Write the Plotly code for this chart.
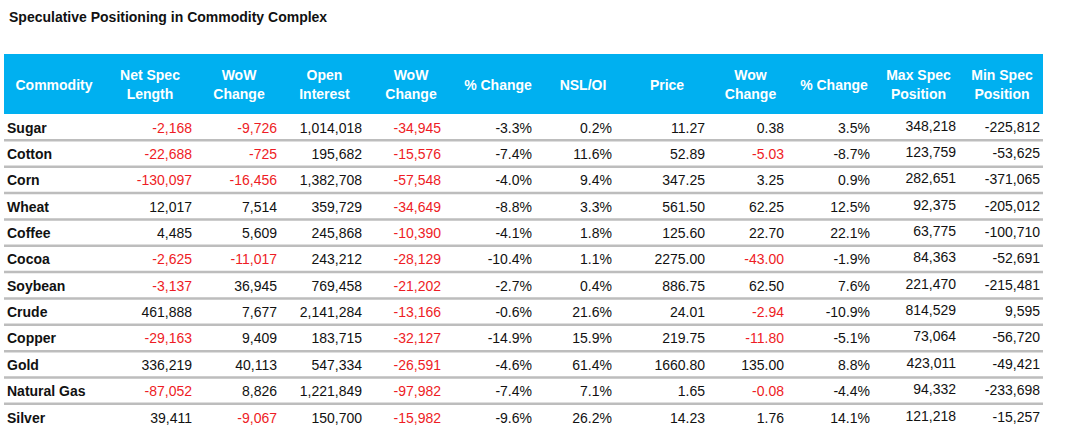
import plotly.graph_objects as go

W, H = 1068, 435

title = "Speculative Positioning in Commodity Complex"
headers = ["Commodity", "Net Spec<br>Length", "WoW<br>Change", "Open<br>Interest", "WoW<br>Change",
           "% Change", "NSL/OI", "Price", "Wow<br>Change", "% Change", "Max Spec<br>Position", "Min Spec<br>Position"]

commodities = ["Sugar", "Cotton", "Corn", "Wheat", "Coffee", "Cocoa", "Soybean", "Crude", "Copper",
               "Gold", "Natural Gas", "Silver"]
net_spec_length = [-2168, -22688, -130097, 12017, 4485, -2625, -3137, 461888, -29163, 336219, -87052, 39411]
nsl_wow_change = [-9726, -725, -16456, 7514, 5609, -11017, 36945, 7677, 9409, 40113, 8826, -9067]
open_interest = [1014018, 195682, 1382708, 359729, 245868, 243212, 769458, 2141284, 183715, 547334, 1221849, 150700]
oi_wow_change = [-34945, -15576, -57548, -34649, -10390, -28129, -21202, -13166, -32127, -26591, -97982, -15982]
oi_pct_change = [-3.3, -7.4, -4.0, -8.8, -4.1, -10.4, -2.7, -0.6, -14.9, -4.6, -7.4, -9.6]
nsl_oi = [0.2, 11.6, 9.4, 3.3, 1.8, 1.1, 0.4, 21.6, 15.9, 61.4, 7.1, 26.2]
price = [11.27, 52.89, 347.25, 561.50, 125.60, 2275.00, 886.75, 24.01, 219.75, 1660.80, 1.65, 14.23]
price_wow_change = [0.38, -5.03, 3.25, 62.25, 22.70, -43.00, 62.50, -2.94, -11.80, 135.00, -0.08, 1.76]
price_pct_change = [3.5, -8.7, 0.9, 12.5, 22.1, -1.9, 7.6, -10.9, -5.1, 8.8, -4.4, 14.1]
max_spec_position = [348218, 123759, 282651, 92375, 63775, 84363, 221470, 814529, 73064, 423011, 94332, 121218]
min_spec_position = [-225812, -53625, -371065, -205012, -100710, -52691, -215481, 9595, -56720, -49421, -233698, -15257]

BLUE = "#00b0f0"
RED = "#ee1c25"
BLACK = "#111111"
GRID = "#bdbdbd"
FONT = "Arial, Liberation Sans, sans-serif"

def fmt_int(v):
    return f"{v:,}"

def fmt_pct(v):
    return f"{v:.1f}%"

def fmt_dec(v):
    return f"{v:.2f}"

# (values, formatter, negatives shown red)
columns = [
    (net_spec_length, fmt_int, True),
    (nsl_wow_change, fmt_int, True),
    (open_interest, fmt_int, False),
    (oi_wow_change, fmt_int, True),
    (oi_pct_change, fmt_pct, False),
    (nsl_oi, fmt_pct, False),
    (price, fmt_dec, False),
    (price_wow_change, fmt_dec, True),
    (price_pct_change, fmt_pct, False),
    (max_spec_position, fmt_int, False),
    (min_spec_position, fmt_int, False),
]

# layout (pixels)
col_widths = [100, 92, 86, 85, 88, 86, 84, 84, 83, 84, 85, 82]
right_inset = [4, 5, 5, 14, 9, 13, 4, 8, 6, 5, 3]
col_dy = [0, 0, 0, 0, 0, 0, 0, 0, 0, -2, -1]
text_dy = 2
table_left = 4
table_top = 54
header_h = 60
row_h = 26.35

edges = [table_left]
for w in col_widths:
    edges.append(edges[-1] + w)
table_right = edges[-1]

row_centers = [table_top + header_h + row_h * (i + 0.5) + text_dy for i in range(len(commodities))]

fig = go.Figure()

# header labels
fig.add_trace(go.Scatter(
    x=[(edges[i] + edges[i + 1]) / 2 for i in range(len(headers))],
    y=[table_top + header_h / 2 + text_dy] * len(headers),
    mode="text", text=["<b>%s</b>" % h for h in headers], textposition="middle center",
    textfont=dict(family=FONT, size=14, color="white"), hoverinfo="skip", showlegend=False,
))

# commodity names
fig.add_trace(go.Scatter(
    x=[table_left + 3] * len(commodities), y=row_centers,
    mode="text", text=["<b>%s</b>" % c for c in commodities], textposition="middle right",
    textfont=dict(family=FONT, size=14, color=BLACK), hoverinfo="skip", showlegend=False,
))

for j, (vals, f, red) in enumerate(columns):
    fig.add_trace(go.Scatter(
        x=[edges[j + 2] - right_inset[j]] * len(vals), y=[y + col_dy[j] for y in row_centers],
        mode="text", text=[f(v) for v in vals], textposition="middle left",
        textfont=dict(family=FONT, size=14,
                      color=[(RED if (red and v < 0) else BLACK) for v in vals]),
        hoverinfo="skip", showlegend=False, cliponaxis=False,
    ))

shapes = [dict(type="rect", xref="x", yref="y", x0=table_left, x1=table_right,
               y0=table_top, y1=table_top + header_h, fillcolor=BLUE, line=dict(width=0), layer="below")]
for i in range(len(commodities) - 1):
    y_px = table_top + header_h + row_h * (i + 1)
    shapes.append(dict(type="line", xref="x", yref="y", x0=table_left, x1=table_right,
                       y0=y_px, y1=y_px, line=dict(color=GRID, width=2.5), layer="below"))

fig.update_layout(
    width=W, height=H,
    margin=dict(l=0, r=0, t=0, b=0, pad=0),
    paper_bgcolor="white", plot_bgcolor="white",
    xaxis=dict(range=[0, W], visible=False, fixedrange=True),
    yaxis=dict(range=[H, 0], visible=False, fixedrange=True),
    shapes=shapes,
    annotations=[dict(text="<b>%s</b>" % title, x=7, y=17, xref="x", yref="y",
                      xanchor="left", yanchor="middle", showarrow=False,
                      font=dict(family=FONT, size=14, color="#111111"))],
)

fig.write_html("out.html", config={"displayModeBar": False},
               post_script="document.body.style.margin='0';document.body.style.overflow='hidden';")
